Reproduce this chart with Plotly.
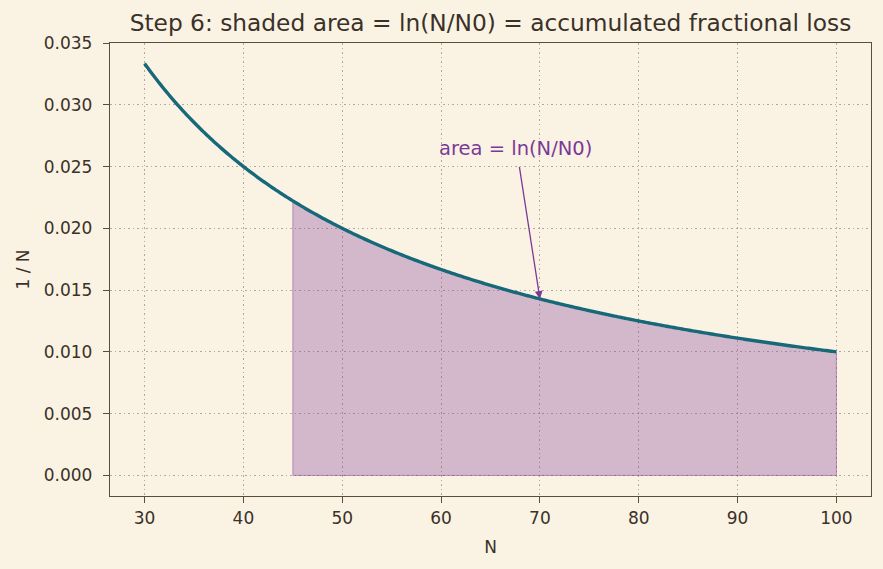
import numpy as np
import plotly.graph_objects as go

# Data
N_min, N_max = 30, 100          # curve domain
N0, N_end = 45, 100             # shaded interval
arrow_target_N = 70             # annotation points here
text_N, text_y = 60, 0.0265     # annotation text anchor
arrow_tail = (67.9, 0.0251)
x_ticks = [30, 40, 50, 60, 70, 80, 90, 100]
y_ticks = [0.000, 0.005, 0.010, 0.015, 0.020, 0.025, 0.030, 0.035]

N = np.linspace(N_min, N_max, 400)
invN = 1.0 / N
Ns = np.linspace(N0, N_end, 300)
invNs = 1.0 / Ns

BG = "#faf3e4"
AX = "#5b4d3e"
TXT = "#3a3128"
PURPLE = "#7b3a96"
TEAL = "#17697a"
FONT = "DejaVu Sans"

fig = go.Figure()
fig.add_trace(go.Scatter(
    x=np.concatenate([[N0], Ns, [N_end, N0]]),
    y=np.concatenate([[0], invNs, [0, 0]]),
    fill="toself", fillcolor="rgba(123,50,148,0.3)",
    line=dict(color="rgba(123,50,148,0.45)", width=1),
    mode="lines", hoverinfo="skip", showlegend=False))
fig.add_trace(go.Scatter(x=N, y=invN, mode="lines",
                         line=dict(color=TEAL, width=3.4, simplify=False), showlegend=False))

fig.add_annotation(x=arrow_target_N, y=1 / arrow_target_N, ax=arrow_tail[0], ay=arrow_tail[1],
                   axref="x", ayref="y", xref="x", yref="y", text="", showarrow=True,
                   arrowhead=2, arrowsize=1.2, arrowwidth=1.3, arrowcolor=PURPLE)
fig.add_annotation(x=text_N, y=text_y, xref="x", yref="y", text="area = ln(N/N0)",
                   showarrow=False, xanchor="left", yanchor="middle",
                   font=dict(family=FONT, size=19.5, color=PURPLE), xshift=-4)

axis_common = dict(showline=True, linecolor=AX, linewidth=1.3, mirror=True,
                   ticks="outside", ticklen=6, tickwidth=1.3, tickcolor=AX,
                   showgrid=True, gridcolor="#b3a999", griddash="1.5px,3px", gridwidth=1,
                   zeroline=False, tickfont=dict(family=FONT, size=17, color=TXT))

fig.update_layout(
    width=883, height=569, paper_bgcolor=BG, plot_bgcolor=BG,
    margin=dict(l=110, r=12, t=43, b=73),
    title=dict(text="Step 6: shaded area = ln(N/N0) = accumulated fractional loss",
               x=(110 + 871) / 2 / 883, xanchor="center", y=1 - 23 / 569, yanchor="middle",
               font=dict(family=FONT, size=23.3, color=TXT)),
    xaxis=dict(range=[26.5, 103.5], tickvals=x_ticks,
               title=dict(text="N", font=dict(family=FONT, size=17, color=TXT), standoff=14),
               **axis_common),
    yaxis=dict(range=[-0.0016667, 0.035], tickvals=y_ticks, tickformat=".3f",
               ticklabelstandoff=7,
               title=dict(text="1 / N", font=dict(family=FONT, size=17, color=TXT), standoff=9),
               **axis_common),
)

fig.write_html("out.html")
